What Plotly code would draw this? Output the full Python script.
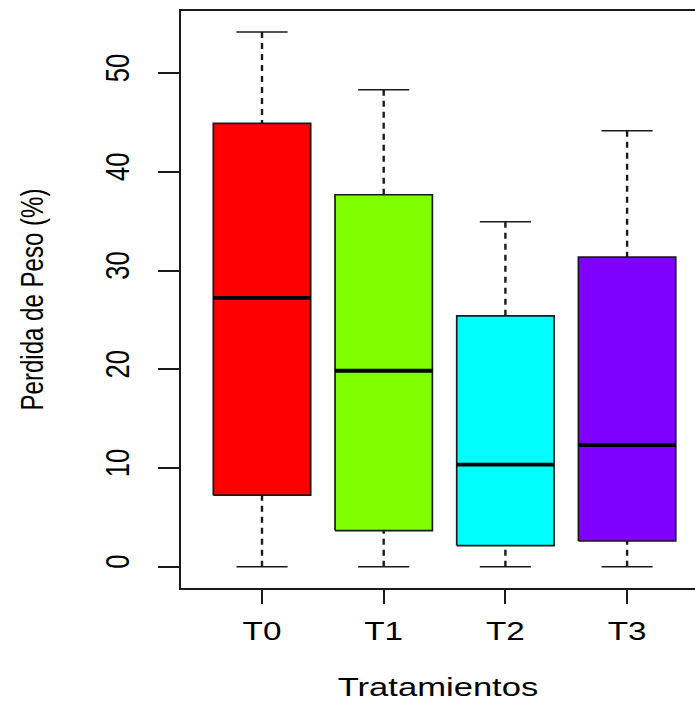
import plotly.graph_objects as go

# ---- data ----
categories = ["T0", "T1", "T2", "T3"]
lower_whisker = [0.0, 0.0, 0.0, 0.0]
q1 = [7.25, 3.67, 2.15, 2.61]
median = [27.23, 19.85, 10.35, 12.31]
q3 = [44.9, 37.67, 25.4, 31.36]
upper_whisker = [54.15, 48.3, 34.95, 44.15]
colors = ["#FF0000", "#80FF00", "#00FFFF", "#8000FF"]
y_ticks = [0, 10, 20, 30, 40, 50]

HALF_BOX = 0.40
HALF_CAP = 0.21
LINE_C = "#1a1a1a"

fig = go.Figure()
positions = list(range(1, len(categories) + 1))

for i, pos in enumerate(positions):
    # box
    fig.add_trace(go.Scatter(
        x=[pos - HALF_BOX, pos + HALF_BOX, pos + HALF_BOX, pos - HALF_BOX, pos - HALF_BOX],
        y=[q1[i], q1[i], q3[i], q3[i], q1[i]],
        mode="lines", fill="toself", fillcolor=colors[i],
        line=dict(color=LINE_C, width=1.7), hoverinfo="skip", showlegend=False))
    # median
    fig.add_trace(go.Scatter(
        x=[pos - HALF_BOX, pos + HALF_BOX], y=[median[i], median[i]],
        mode="lines", line=dict(color="#000000", width=3.8),
        hoverinfo="skip", showlegend=False))
    # whiskers (dashed), drawn from the extremes towards the box
    fig.add_trace(go.Scatter(
        x=[pos, pos, None, pos, pos],
        y=[upper_whisker[i], q3[i], None, lower_whisker[i], q1[i]],
        mode="lines", line=dict(color=LINE_C, width=2.4, dash="6px,5px"),
        hoverinfo="skip", showlegend=False))
    # caps
    fig.add_trace(go.Scatter(
        x=[pos - HALF_CAP, pos + HALF_CAP, None, pos - HALF_CAP, pos + HALF_CAP],
        y=[upper_whisker[i], upper_whisker[i], None, lower_whisker[i], lower_whisker[i]],
        mode="lines", line=dict(color=LINE_C, width=1.5),
        hoverinfo="skip", showlegend=False))

FONT = "Liberation Sans, Arial, sans-serif"
K = 1.33

fig.update_layout(
    width=695, height=702,
    margin=dict(l=181, r=0, t=11, b=114, pad=0),
    paper_bgcolor="white", plot_bgcolor="white",
    font=dict(family=FONT, color="#000000"),
    xaxis=dict(
        range=[0.3344, 4.558], tickmode="array", tickvals=positions, ticktext=categories,
        showgrid=False, zeroline=False, showline=True, linecolor=LINE_C, linewidth=1.7,
        mirror=True, ticks="outside", ticklen=14, tickwidth=1.6, tickcolor=LINE_C,
        ticklabelstandoff=6,
        tickfont=dict(size=25, family=FONT, color="#000000"),
        title=dict(text="Tratamientos", font=dict(size=26, family=FONT, color="#000000"), standoff=36),
    ),
    yaxis=dict(
        range=[-2.15, 56.28], tickmode="array", tickvals=y_ticks,
        ticktext=[str(v) for v in y_ticks],
        showgrid=False, zeroline=False, showline=True, linecolor=LINE_C, linewidth=1.7,
        mirror=False, ticks="outside", ticklen=21, tickwidth=1.6, tickcolor=LINE_C,
        tickangle=-90, ticklabelstandoff=16,
        tickfont=dict(size=34, family=FONT, color="#000000"),
        title=dict(text="Perdida de Peso (%)", font=dict(size=32, family=FONT, color="#000000"), standoff=44),
    ),
)

post = """
var gd = document.getElementById('{plot_id}');
var K = %s;
function stretch(sel, f){
  gd.querySelectorAll(sel).forEach(function(t){
    var L = t.getComputedTextLength();
    t.setAttribute('textLength', L*f);
    t.setAttribute('lengthAdjust','spacingAndGlyphs');
  });
}
stretch('.xtick text', K);
stretch('.g-xtitle text', K);
stretch('.ytick text', 1/K);
stretch('.g-ytitle text', 1/K);
""" % K

fig.write_html("out.html", post_script=post)
